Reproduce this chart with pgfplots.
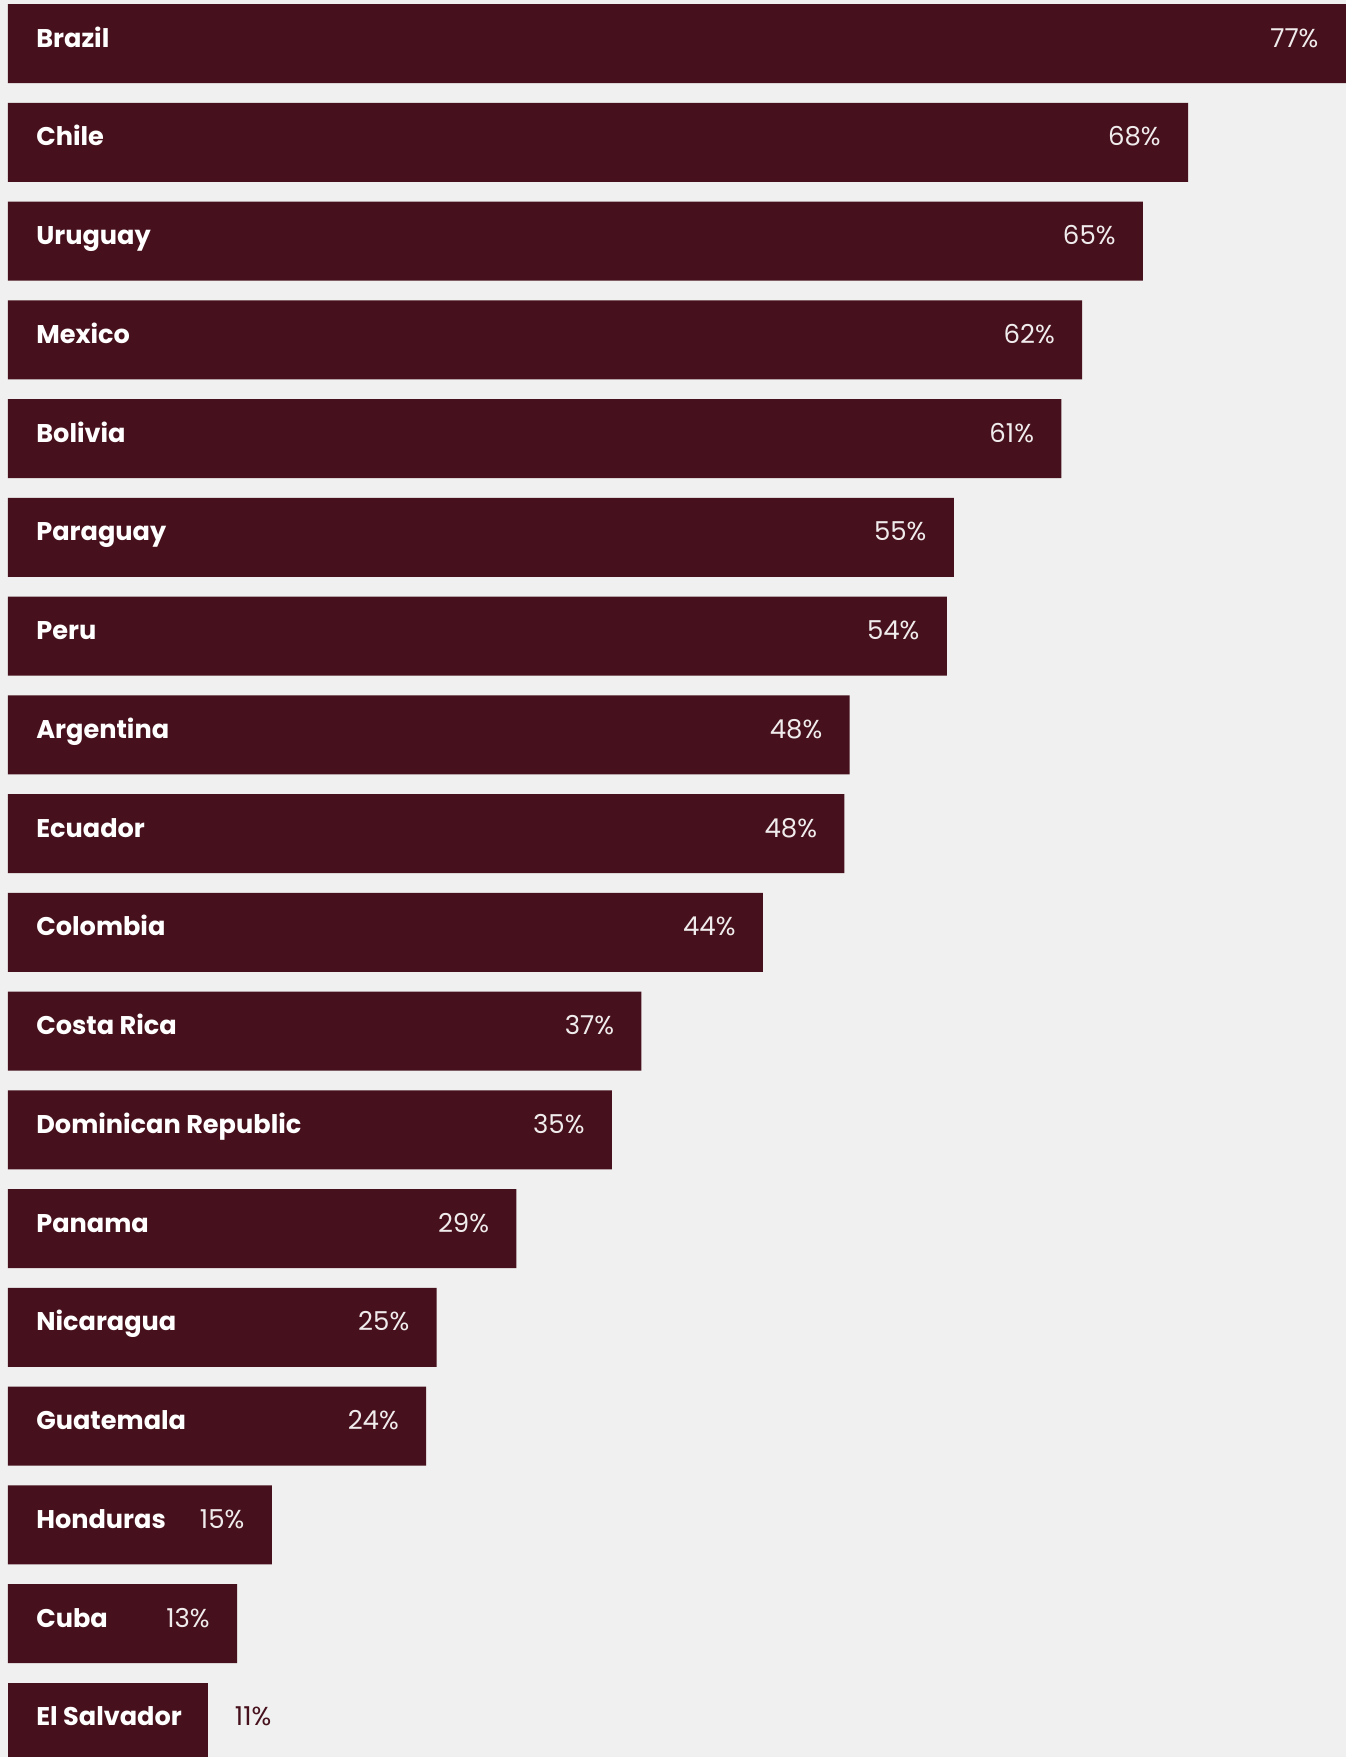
\documentclass[border=0pt]{standalone}
\usepackage{pgfplots}
\pgfplotsset{compat=1.18}
\usepackage{pgfplotstable}
\usepackage{fontspec}
\setmainfont{Poppins}
\definecolor{barc}{HTML}{46111C}
\definecolor{bgc}{HTML}{F0F0F0}
\pgfplotstableread{
idx val lab
0 77.09 77
1 68.0 68
2 65.4 65
3 61.9 62
4 60.7 61
5 54.5 55
6 54.1 54
7 48.5 48
8 48.2 48
9 43.5 44
10 36.5 37
11 34.8 35
12 29.3 29
13 24.7 25
14 24.1 24
15 15.2 15
16 13.2 13
}\inside
\pgfplotstableread{
idx val lab
17 11.5 11
}\outside
\tikzset{cname/.style={anchor=base west, inner sep=0pt, text=white, font=\bfseries\fontsize{12.8}{15}\selectfont, yshift=-1.75pt}}
\begin{document}
\begin{tikzpicture}
\begin{axis}[
  width=673pt, height=878.5pt, scale only axis,
  xmin=-0.4606, xmax=77.1,
  ymin=-0.4405, ymax=17.35, y dir=reverse,
  axis line style={draw=none}, ticks=none,
  axis background/.style={fill=bgc},
  xbar, bar width=0.8, bar shift=0pt,
  clip=true,
]
\addplot[fill=barc, draw=none,
  point meta=explicit symbolic,
  nodes near coords={\pgfplotspointmeta\%},
  every node near coord/.append style={font=\fontsize{13}{15}\selectfont, text=white!92!barc, anchor=base east, xshift=-13.5pt, yshift=-1.75pt, inner sep=0pt}
] table[x=val, y=idx, meta=lab] {\inside};
\addplot[fill=barc, draw=none,
  point meta=explicit symbolic,
  nodes near coords={\pgfplotspointmeta\%},
  every node near coord/.append style={font=\fontsize{13}{15}\selectfont, text=barc, anchor=base west, xshift=13.5pt, yshift=-1.75pt, inner sep=0pt}
] table[x=val, y=idx, meta=lab] {\outside};
\node[cname] at (axis cs:1.61,0) {Brazil};
\node[cname] at (axis cs:1.61,1) {Chile};
\node[cname] at (axis cs:1.61,2) {Uruguay};
\node[cname] at (axis cs:1.61,3) {Mexico};
\node[cname] at (axis cs:1.61,4) {Bolivia};
\node[cname] at (axis cs:1.61,5) {Paraguay};
\node[cname] at (axis cs:1.61,6) {Peru};
\node[cname] at (axis cs:1.61,7) {Argentina};
\node[cname] at (axis cs:1.61,8) {Ecuador};
\node[cname] at (axis cs:1.61,9) {Colombia};
\node[cname] at (axis cs:1.61,10) {Costa Rica};
\node[cname] at (axis cs:1.61,11) {Dominican Republic};
\node[cname] at (axis cs:1.61,12) {Panama};
\node[cname] at (axis cs:1.61,13) {Nicaragua};
\node[cname] at (axis cs:1.61,14) {Guatemala};
\node[cname] at (axis cs:1.61,15) {Honduras};
\node[cname] at (axis cs:1.61,16) {Cuba};
\node[cname] at (axis cs:1.61,17) {El Salvador};
\end{axis}
\end{tikzpicture}
\end{document}
